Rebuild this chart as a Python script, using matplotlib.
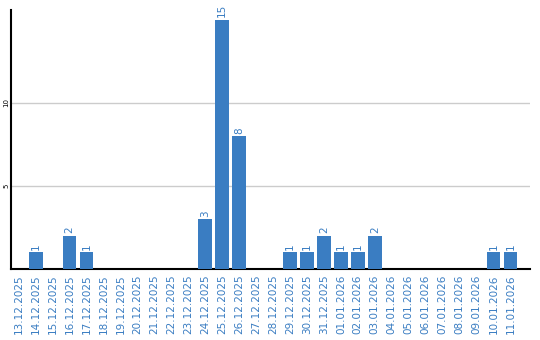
import matplotlib
matplotlib.use("Agg")
import matplotlib.pyplot as plt

dates = ["13.12.2025", "14.12.2025", "15.12.2025", "16.12.2025", "17.12.2025",
         "18.12.2025", "19.12.2025", "20.12.2025", "21.12.2025", "22.12.2025",
         "23.12.2025", "24.12.2025", "25.12.2025", "26.12.2025", "27.12.2025",
         "28.12.2025", "29.12.2025", "30.12.2025", "31.12.2025", "01.01.2026",
         "02.01.2026", "03.01.2026", "04.01.2026", "05.01.2026", "06.01.2026",
         "07.01.2026", "08.01.2026", "09.01.2026", "10.01.2026", "11.01.2026"]
counts = [0, 1, 0, 2, 1, 0, 0, 0, 0, 0, 0, 3, 15, 8, 0,
          0, 1, 1, 2, 1, 1, 2, 0, 0, 0, 0, 0, 0, 1, 1]

blue = "#3a7dc2"

fig = plt.figure(figsize=(5.4, 3.4), dpi=100)
ax = fig.add_axes([11/540, 71/340, 519/540, 259/340])

x = list(range(len(dates)))
ax.bar(x, counts, width=0.82, color=blue, zorder=3)

for xi, c in zip(x, counts):
    if c > 0:
        ax.text(xi, c + 0.15, str(c), rotation=90, ha="center", va="bottom",
                color=blue, fontsize=7.5)

ax.set_xlim(-0.45, 30.15)
ax.set_ylim(0, 15.6)
ax.set_yticks([5, 10])
ax.set_yticklabels(["5", "10"], rotation=90, fontsize=5, va="center")
ax.grid(axis="y", color="#cccccc", linewidth=1, zorder=0)

ax.set_xticks(x)
ax.set_xticklabels(dates, rotation=90, fontsize=7.5, color=blue)
ax.tick_params(length=0, pad=4)
ax.tick_params(axis="y", pad=1)

for s in ["top", "right"]:
    ax.spines[s].set_visible(False)
for s in ["left", "bottom"]:
    ax.spines[s].set_linewidth(1.5)
    ax.spines[s].set_color("black")

fig.savefig("out.png", dpi=100)
